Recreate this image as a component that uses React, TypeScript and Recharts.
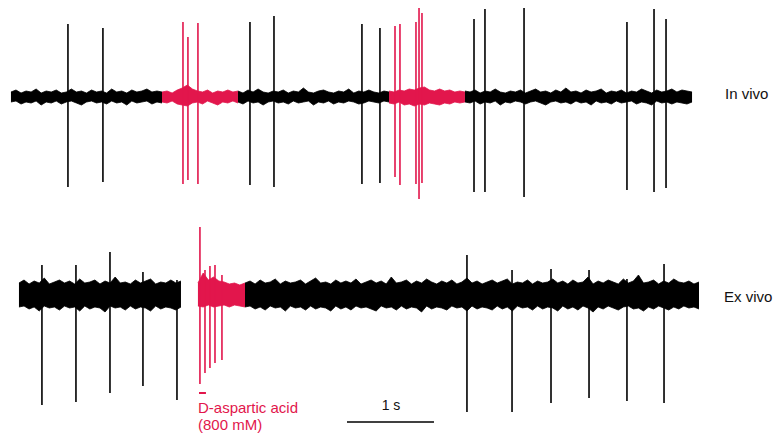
import React from 'react';
import { ComposedChart, Area, Line, XAxis, YAxis } from 'recharts';

const RED = '#e2164c';
const BLACK = '#000000';
const FONT = '"Liberation Sans", Arial, sans-serif';

// shared time axis, seconds (1 s scale bar)
const TIME_DOMAIN: [number, number] = [-0.126, 8.793];

// ---- In vivo trace ----
// noise band segments: [start s, end s, colour], envelope highs / lows (µV, arbitrary)
const inVivoSegments: [number, number, string][] = [
  [0, 1.736, BLACK],
  [1.736, 2.609, RED],
  [2.609, 4.345, BLACK],
  [4.345, 5.218, RED],
  [5.218, 7.828, BLACK],
];
const inVivoHigh = [
  [5, 7, 4, 6, 5, 8, 4, 6, 5, 7, 4, 5, 8, 5, 6, 4, 7, 5, 6, 4, 8, 5, 6, 4, 7, 5, 6, 8, 5, 6, 5],
  [5, 6, 4, 7, 9, 12, 8, 6, 5, 7, 4, 6, 5, 7, 5, 6],
  [6, 4, 7, 5, 8, 5, 4, 6, 5, 7, 4, 6, 5, 9, 5, 4, 6, 7, 5, 4, 6, 5, 8, 4, 6, 5, 7, 5, 4, 6, 5],
  [6, 5, 7, 6, 8, 7, 9, 10, 7, 6, 8, 6, 7, 5, 6, 5],
  [6, 5, 7, 4, 6, 5, 8, 5, 4, 6, 5, 7, 4, 6, 8, 5, 6, 4, 7, 5, 9, 5, 6, 4, 7, 5, 6, 8, 4, 6,
    5, 7, 4, 6, 5, 8, 6, 4, 7, 5, 6, 8, 5, 7, 6, 5],
];
const inVivoLow = [
  [-5, -4, -7, -5, -6, -4, -8, -5, -6, -4, -7, -5, -4, -6, -8, -5, -4, -6, -5, -7, -4, -6, -5, -8, -4, -6, -5, -4, -7, -5, -6],
  [-5, -6, -4, -7, -8, -9, -6, -5, -7, -4, -6, -8, -5, -6, -4, -6],
  [-5, -7, -4, -6, -5, -8, -5, -4, -6, -5, -7, -4, -6, -5, -4, -8, -5, -6, -4, -7, -5, -6, -4, -5, -7, -6, -4, -5, -6, -4, -5],
  [-6, -7, -5, -8, -7, -9, -7, -8, -6, -7, -8, -6, -7, -5, -6, -5],
  [-5, -6, -4, -7, -5, -6, -4, -8, -5, -6, -4, -5, -7, -5, -4, -6, -8, -5, -4, -6, -5, -7, -4, -6, -5, -8, -4, -6, -5, -7,
    -4, -6, -5, -4, -7, -5, -6, -8, -4, -6, -5, -7, -5, -6, -7, -5],
];
// spikes: [time s, peak, trough]
const inVivoSpikes: [number, number, number][] = [
  [0.655, 73, -90], [1.057, 69, -85], [2.747, 75, -88], [3.023, 81, -90],
  [4.034, 73, -87], [4.241, 69, -86], [5.322, 78, -95], [5.448, 88, -95],
  [5.897, 89, -100], [7.08, 75, -93], [7.391, 88, -95], [7.529, 78, -91],
];
const inVivoDrugSpikes: [number, number, number][] = [
  [1.977, 75, -87], [2.034, 60, -83], [2.149, 74, -87],
  [4.414, 71, -80], [4.471, 73, -88], [4.655, 75, -87], [4.69, 89, -102], [4.724, 84, -86],
];

// ---- Ex vivo trace ----
const exVivoSegments: [number, number, string][] = [
  [0.092, 1.954, BLACK],
  [2.149, 2.69, RED],
  [2.69, 7.908, BLACK],
];
const exVivoHigh = [
  [12, 15, 11, 14, 12, 17, 11, 13, 15, 12, 14, 11, 16, 12, 13, 15, 11, 14, 12, 18, 12, 13, 11, 15, 12, 14, 16, 11, 13, 12, 15, 12, 14],
  [12, 22, 15, 18, 14, 13, 11, 12, 10, 12],
  [12, 14, 11, 15, 12, 13, 16, 11, 14, 12, 13, 15, 11, 14, 17, 12, 13, 11, 15, 12,
    14, 12, 16, 11, 13, 15, 12, 14, 11, 18, 12, 13, 15, 11, 14, 12, 16, 13, 11, 14,
    12, 15, 11, 13, 17, 12, 14, 11, 13, 15, 12, 14, 16, 11, 13, 12, 15, 11, 14, 12,
    13, 16, 12, 14, 11, 15, 12, 13, 18, 11, 14, 12, 15, 13, 11, 16, 12, 14, 20, 12,
    13, 15, 11, 14, 12, 16, 13, 12, 14, 11, 13],
];
const exVivoLow = [
  [-12, -11, -14, -12, -16, -11, -13, -12, -15, -11, -13, -12, -16, -11, -14, -12, -13, -17, -11, -13, -12, -15, -11, -14, -12, -13, -16, -11, -14, -12, -13, -15, -12],
  [-11, -12, -10, -12, -11, -10, -12, -10, -11, -12],
  [-12, -11, -14, -12, -15, -11, -13, -12, -16, -11, -13, -12, -15, -11, -14, -12, -13, -16, -11, -14,
    -12, -15, -11, -13, -12, -14, -16, -11, -13, -12, -15, -11, -14, -12, -13, -17, -11, -14, -12, -13,
    -15, -11, -13, -12, -16, -11, -14, -12, -13, -15, -11, -14, -12, -16, -11, -13, -12, -15, -11, -14,
    -12, -13, -16, -11, -14, -12, -15, -11, -13, -17, -12, -14, -11, -13, -15, -12, -11, -14, -13, -16,
    -12, -14, -11, -13, -15, -12, -14, -11, -13, -12, -14],
];
const exVivoSpikes: [number, number, number][] = [
  [0.356, 30, -110], [0.747, 30, -107], [1.138, 43, -98], [1.517, 23, -91], [1.908, 15, -105],
  [5.241, 40, -117], [5.759, 25, -117], [6.207, 26, -108], [6.644, 25, -103], [7.08, 16, -106], [7.506, 31, -108],
];
const exVivoDrugSpikes: [number, number, number][] = [
  [2.172, 68, -89], [2.23, 25, -78], [2.287, 29, -73], [2.345, 30, -68], [2.425, 20, -65],
];
// application marker under the drug burst, and the 1 s scale bar
const drugMarker = [{ t: 2.161, v: -98 }, { t: 2.241, v: -98 }];
const scaleBar = [{ t: 3.862, v: -127 }, { t: 4.862, v: -127 }];

function bandData(start: number, end: number, hi: number[], lo: number[]) {
  const n = Math.min(hi.length, lo.length);
  return hi.slice(0, n).map((h, i) => ({ t: start + (i * (end - start)) / (n - 1), band: [lo[i], h] }));
}

function spikeData(spikes: [number, number, number][]) {
  const out: { t: number; v: number | null }[] = [];
  spikes.forEach(([t, peak, trough]) => {
    out.push({ t, v: peak }, { t, v: trough }, { t, v: null });
  });
  return out;
}

interface TraceProps {
  height: number;
  yDomain: [number, number];
  segments: [number, number, string][];
  high: number[][];
  low: number[][];
  spikes: [number, number, number][];
  drugSpikes: [number, number, number][];
  children?: React.ReactNode;
}

function Trace({ height, yDomain, segments, high, low, spikes, drugSpikes, children }: TraceProps) {
  return (
    <ComposedChart width={776} height={height} margin={{ top: 0, right: 0, bottom: 0, left: 0 }}>
      <XAxis type="number" dataKey="t" domain={TIME_DOMAIN} allowDataOverflow hide />
      <YAxis type="number" domain={yDomain} allowDataOverflow hide />
      {segments.map(([start, end, color], i) => (
        <Area
          key={`band-${i}`}
          data={bandData(start, end, high[i], low[i])}
          dataKey="band"
          type="linear"
          stroke={color}
          strokeWidth={0.8}
          fill={color}
          fillOpacity={1}
          dot={false}
          activeDot={false}
          isAnimationActive={false}
        />
      ))}
      <Line data={spikeData(spikes)} dataKey="v" stroke={BLACK} strokeWidth={1.6} dot={false} activeDot={false} isAnimationActive={false} />
      <Line data={spikeData(drugSpikes)} dataKey="v" stroke={RED} strokeWidth={1.6} dot={false} activeDot={false} isAnimationActive={false} />
      {children}
    </ComposedChart>
  );
}

export default function App() {
  const label: React.CSSProperties = { position: 'absolute', fontSize: 15, lineHeight: '17px', whiteSpace: 'nowrap' };
  return (
    <div style={{ position: 'absolute', left: 0, top: 0, width: 776, height: 437, background: '#fff', fontFamily: FONT, color: '#111' }}>
      <div style={{ position: 'absolute', left: 0, top: 0 }}>
        <Trace
          height={210}
          yDomain={[-113, 97]}
          segments={inVivoSegments}
          high={inVivoHigh}
          low={inVivoLow}
          spikes={inVivoSpikes}
          drugSpikes={inVivoDrugSpikes}
        />
      </div>
      <div style={{ position: 'absolute', left: 0, top: 210 }}>
        <Trace
          height={227}
          yDomain={[-142, 85]}
          segments={exVivoSegments}
          high={exVivoHigh}
          low={exVivoLow}
          spikes={exVivoSpikes}
          drugSpikes={exVivoDrugSpikes}
        >
          <Line data={drugMarker} dataKey="v" stroke={RED} strokeWidth={2} dot={false} activeDot={false} isAnimationActive={false} />
          <Line data={scaleBar} dataKey="v" stroke={BLACK} strokeWidth={1.6} dot={false} activeDot={false} isAnimationActive={false} />
        </Trace>
      </div>
      <div style={{ ...label, left: 725, top: 85 }}>In vivo</div>
      <div style={{ ...label, left: 724, top: 288 }}>Ex vivo</div>
      <div style={{ ...label, left: 198, top: 399, color: RED }}>
        D-aspartic acid
        <br />
        (800 mM)
      </div>
      <div style={{ ...label, left: 361, top: 397, width: 60, textAlign: 'center', fontSize: 14 }}>1 s</div>
    </div>
  );
}
